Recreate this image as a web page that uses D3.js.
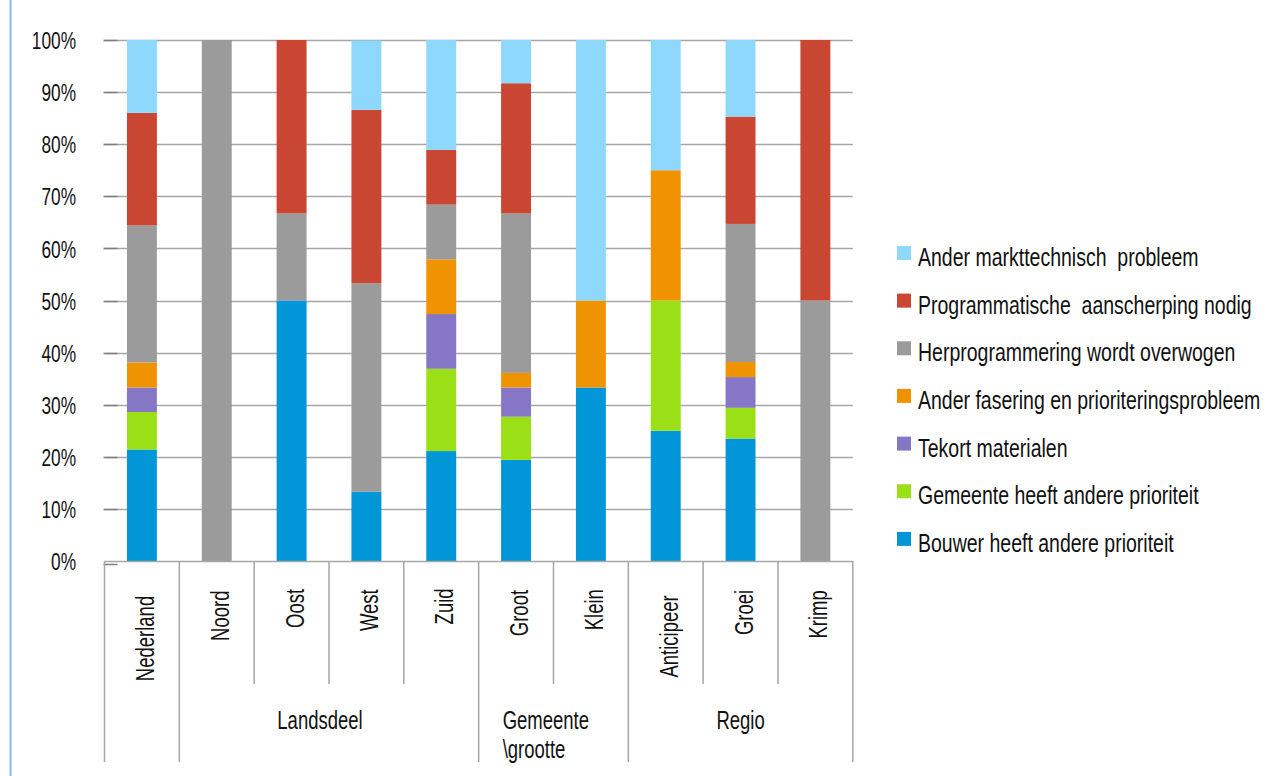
<!DOCTYPE html>
<html>
<head>
<meta charset="utf-8">
<script src="https://cdn.jsdelivr.net/npm/d3@7"></script>
<style>
  html, body { margin: 0; padding: 0; background: #ffffff; }
  svg text { font-family: "Liberation Sans", Arial, sans-serif; fill: #111; }
</style>
</head>
<body>
<svg id="chart" width="1274" height="776"></svg>
<script>
// ---------- data ----------
const categories = ["Nederland", "Noord", "Oost", "West", "Zuid", "Groot", "Klein", "Anticipeer", "Groei", "Krimp"];
const groupLabels = ["", "Landsdeel", "Gemeente\n\\grootte", "Regio"];
const groupOfCategory = [0, 1, 1, 1, 1, 2, 2, 3, 3, 3];

// series, stacked from bottom to top (percent)
const seriesNames = [
  "Bouwer heeft andere prioriteit",
  "Gemeente heeft andere prioriteit",
  "Tekort materialen",
  "Ander fasering en prioriteringsprobleem",
  "Herprogrammering wordt overwogen",
  "Programmatische  aanscherping nodig",
  "Ander markttechnisch  probleem"
];
const bouwer        = [21.4,   0, 50.0, 13.3, 21.1, 19.4, 33.3, 25.0, 23.5,  0];
const gemeente      = [ 7.2,   0,  0,    0,   15.8,  8.3,  0,   25.0,  5.9,  0];
const tekort        = [ 4.7,   0,  0,    0,   10.5,  5.6,  0,    0,    5.9,  0];
const anderFasering = [ 4.8,   0,  0,    0,   10.5,  2.8, 16.7, 25.0,  2.9,  0];
const herprog       = [26.3, 100, 16.7, 40.0, 10.5, 30.6,  0,    0,   26.5, 50];
const programm      = [21.6,   0, 33.3, 33.3, 10.5, 25.0,  0,    0,   20.6, 50];
const anderMarkt    = [14.0,   0,  0,   13.3, 21.1,  8.3, 50.0, 25.0, 14.7,  0];
const seriesValues = [bouwer, gemeente, tekort, anderFasering, herprog, programm, anderMarkt];
const seriesColors = ["#0096d7", "#9be016", "#8677c6", "#f09300", "#9b9b9b", "#c84632", "#8ed8fd"];

const yTicks = [0, 10, 20, 30, 40, 50, 60, 70, 80, 90, 100];

// ---------- layout ----------
const svg = d3.select("#chart");
const plotLeft = 104.5, plotRight = 852.8, plotTop = 40, plotBottom = 561;
const axisBottomShort = 684, axisBottomLong = 762;
const SQ = 0.74; // horizontal squeeze to mimic a condensed typeface

// left decorative border
svg.append("line").attr("x1", 10.5).attr("x2", 10.5).attr("y1", 0).attr("y2", 776)
  .attr("stroke", "#8db8f5").attr("stroke-width", 2);

const x = d3.scaleBand().domain(categories).range([plotLeft, plotRight]).paddingInner(0.6).paddingOuter(0.3);
const y = d3.scaleLinear().domain([0, 100]).range([plotBottom, plotTop]);
const step = x.step();

// gridlines
svg.append("g").selectAll("line").data(yTicks.filter(d => d > 0)).join("line")
  .attr("x1", plotLeft).attr("x2", plotRight)
  .attr("y1", d => Math.round(y(d)) + 0.5).attr("y2", d => Math.round(y(d)) + 0.5)
  .attr("stroke", "#a6a6a6").attr("stroke-width", 1.3);

// y axis via d3
const yAxis = d3.axisLeft(y).tickValues(yTicks).tickFormat(d => d + "%").tickSize(0).tickPadding(0);
const yg = svg.append("g").attr("transform", `translate(${plotLeft},0)`).call(yAxis);
yg.select(".domain").remove();
yg.selectAll(".tick text").attr("x", 0).attr("dy", "0.36em")
  .attr("transform", `translate(${76 - plotLeft},0) scale(0.72,1)`)
  .style("font-size", "24px").style("font-family", "'Liberation Sans', Arial, sans-serif")
  .attr("text-anchor", "end").style("fill", "#111");
// small dark tick stubs
svg.append("g").selectAll("line").data(yTicks).join("line")
  .attr("x1", plotLeft - 1).attr("x2", plotLeft + 13)
  .attr("y1", d => Math.round(y(d)) + 0.5 + (d === 0 ? 3 : 0)).attr("y2", d => Math.round(y(d)) + 0.5 + (d === 0 ? 3 : 0))
  .attr("stroke", "#7f7f7f").attr("stroke-width", 1.5);

// stacked bars
const rows = categories.map((c, i) => {
  const o = { cat: c };
  seriesNames.forEach((s, k) => o[s] = seriesValues[k][i]);
  return o;
});
const stack = d3.stack().keys(seriesNames)(rows);
const color = d3.scaleOrdinal().domain(seriesNames).range(seriesColors);
svg.append("g").selectAll("g").data(stack).join("g")
  .attr("fill", d => color(d.key))
  .selectAll("rect").data(d => d.filter(p => p[1] - p[0] > 0)).join("rect")
  .attr("x", d => x(d.data.cat))
  .attr("width", x.bandwidth())
  .attr("y", d => y(d[1]))
  .attr("height", d => y(d[0]) - y(d[1]));

// x axis line
svg.append("line").attr("x1", plotLeft).attr("x2", plotRight).attr("y1", plotBottom + 0.5).attr("y2", plotBottom + 0.5)
  .attr("stroke", "#a6a6a6").attr("stroke-width", 1.5);

// category separators
const boundaries = d3.range(categories.length + 1).map(i => plotLeft + i * step);
svg.append("g").selectAll("line").data(boundaries).join("line")
  .attr("x1", d => d).attr("x2", d => d)
  .attr("y1", plotBottom)
  .attr("y2", (d, i) => {
    if (i === 0 || i === categories.length) return axisBottomLong;
    return groupOfCategory[i] !== groupOfCategory[i - 1] ? axisBottomLong : axisBottomShort;
  })
  .attr("stroke", "#a6a6a6").attr("stroke-width", 1.5);

// category labels (rotated)
const catG = svg.append("g").selectAll("text").data(categories).join("text")
  .text(d => d)
  .style("font-size", "25px")
  .attr("text-anchor", "end");
catG.each(function(d) {
  const len = this.getComputedTextLength() * SQ;
  const cx = x(d) + x.bandwidth() / 2 + 12;
  const top = 583 + 0.15 * len;
  d3.select(this).attr("transform", `translate(${cx},${top}) rotate(-90) scale(${SQ},1)`);
});

// group labels
const groups = groupLabels.map((g, gi) => {
  const idx = categories.filter((c, i) => groupOfCategory[i] === gi);
  const x0 = x(idx[0]) - (step - x.bandwidth()) / 2;
  const x1 = x(idx[idx.length - 1]) + x.bandwidth() + (step - x.bandwidth()) / 2;
  return { label: g, x0, x1 };
});
groups.forEach((g, gi) => {
  if (!g.label) return;
  const lines = g.label.split("\n");
  if (lines.length === 1) {
    svg.append("text")
      .attr("transform", `translate(${(g.x0 + g.x1) / 2 - (gi === 1 ? 9 : 0)},729) scale(${SQ},1)`)
      .attr("text-anchor", "middle").style("font-size", "25px").text(lines[0]);
  } else {
    lines.forEach((l, li) => {
      svg.append("text")
        .attr("transform", `translate(${g.x0 + 24},${729 + li * 29}) scale(${SQ},1)`)
        .attr("text-anchor", "start").style("font-size", "25px").text(l);
    });
  }
});

// legend (top-to-bottom is reverse of stack)
const legendItems = seriesNames.map((s, k) => ({ name: s, color: seriesColors[k] })).reverse();
const lg = svg.append("g").selectAll("g").data(legendItems).join("g")
  .attr("transform", (d, i) => `translate(897,${266 + i * 47.65})`);
lg.append("rect").attr("x", 0).attr("y", -20).attr("width", 14).attr("height", 14).attr("fill", d => d.color);
lg.append("text").attr("transform", `translate(21,0) scale(0.75,1)`)
  .style("font-size", "26px").style("white-space", "pre")
  .attr("xml:space", "preserve").text(d => d.name);
</script>
</body>
</html>
